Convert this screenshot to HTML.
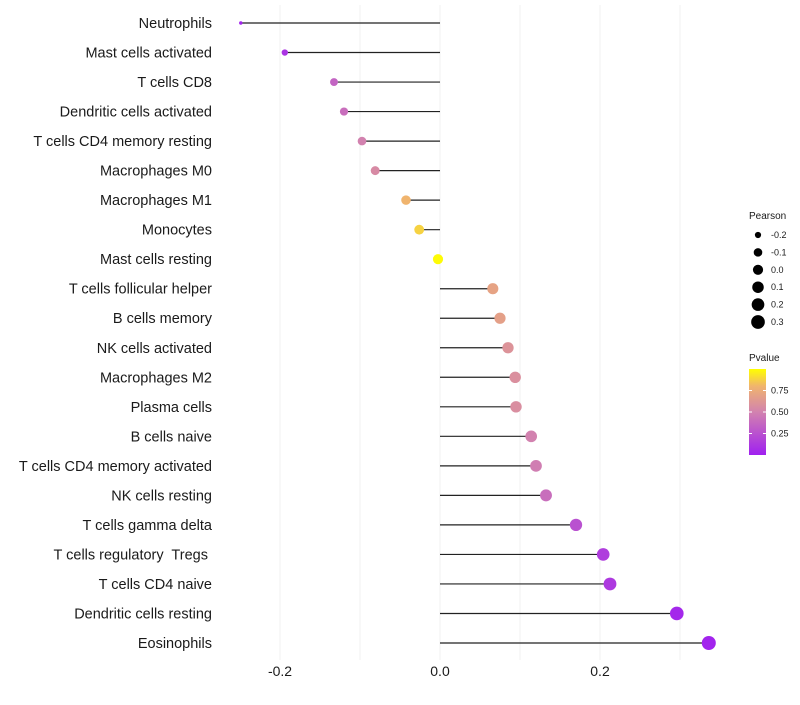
<!DOCTYPE html>
<html><head><meta charset="utf-8"><style>
body{margin:0;background:#fff;font-family:"Liberation Sans",sans-serif;}
text{white-space:pre;}
</style></head><body>
<svg id="chart" width="800" height="700" xmlns="http://www.w3.org/2000/svg" font-family="Liberation Sans, sans-serif"></svg>
<script>
const categories=["Neutrophils","Mast cells activated","T cells CD8","Dendritic cells activated","T cells CD4 memory resting","Macrophages M0","Macrophages M1","Monocytes","Mast cells resting","T cells follicular helper","B cells memory","NK cells activated","Macrophages M2","Plasma cells","B cells naive","T cells CD4 memory activated","NK cells resting","T cells gamma delta","T cells regulatory  Tregs ","T cells CD4 naive","Dendritic cells resting","Eosinophils"];
const pearson=[-0.249,-0.194,-0.1325,-0.12,-0.0975,-0.081,-0.0425,-0.026,-0.0025,0.066,0.075,0.085,0.094,0.095,0.114,0.12,0.1325,0.17,0.204,0.2125,0.296,0.336];
const pvalue=[0.02,0.1,0.35,0.4,0.5,0.55,0.8,0.88,0.99,0.7,0.68,0.6,0.58,0.57,0.5,0.48,0.4,0.25,0.15,0.13,0.04,0.02];
const xTicks=[-0.2,0.0,0.2];
const xTickLabels=["-0.2","0.0","0.2"];
const gridVals=[-0.2,-0.1,0,0.1,0.2,0.3];
const sizeLegend=[-0.2,-0.1,0.0,0.1,0.2,0.3];
const sizeLegendLabels=["-0.2","-0.1","0.0","0.1","0.2","0.3"];
const pTicks=[0.25,0.5,0.75];
const pTickLabels=["0.25","0.50","0.75"];

const svg=document.getElementById('chart');
const NS="http://www.w3.org/2000/svg";
function mk(tag,attrs,parent){const e=document.createElementNS(NS,tag);for(const k in attrs)e.setAttribute(k,attrs[k]);(parent||svg).appendChild(e);return e;}
const xs=v=>440+v*800;
const ys=i=>23+i*(643-23)/(categories.length-1);
const rs=v=>1.5+5.5*Math.sqrt(Math.max(0,(v+0.25)/0.586));
const stops=[[0,[160,32,240]],[0.5,[210,130,175]],[0.8,[240,180,110]],[1,[255,255,0]]];
function col(p){for(let i=1;i<stops.length;i++){if(p<=stops[i][0]){const a=stops[i-1],b=stops[i];const t=(p-a[0])/(b[0]-a[0]);const c=a[1].map((v,j)=>Math.round(v+(b[1][j]-v)*t));return `rgb(${c})`;}}return 'rgb(255,255,0)';}

gridVals.forEach(g=>{const l=mk('line',{x1:xs(g),x2:xs(g),y1:5,y2:660,stroke:'#f0f0f0','stroke-width':1});

});

categories.forEach((c,i)=>{
 const y=ys(i);
 const t=mk('text',{x:212,y:y+5,'text-anchor':'end','font-size':14.5,fill:'#1a1a1a'});t.textContent=c;
 
 
 const ln=mk('line',{x1:xs(0),x2:xs(pearson[i]),y1:y,y2:y,stroke:'#222','stroke-width':1.2});
 
 
 const ci=mk('circle',{cx:xs(pearson[i]),cy:y,r:rs(pearson[i]),fill:col(pvalue[i])});
 
 
});
xTicks.forEach((v,i)=>{const t=mk('text',{x:xs(v),y:676,'text-anchor':'middle','font-size':14,fill:'#1a1a1a'});t.textContent=xTickLabels[i];

});

const lt=mk('text',{x:749,y:219,'font-size':10,fill:'#1a1a1a'});lt.textContent='Pearson';


sizeLegend.forEach((v,i)=>{const y=235+i*17.4;
 const d=mk('circle',{cx:758,cy:y,r:rs(v),fill:'#000'});
 
 
 const t=mk('text',{x:771,y:y+3,'font-size':9,fill:'#1a1a1a'});t.textContent=sizeLegendLabels[i];
 
 
});
const pt=mk('text',{x:749,y:361,'font-size':10,fill:'#1a1a1a'});pt.textContent='Pvalue';


const defs=mk('defs',{});const lg=mk('linearGradient',{id:'pg',x1:0,y1:1,x2:0,y2:0},defs);
for(let k=0;k<=10;k++){mk('stop',{offset:k/10,'stop-color':col(k/10)},lg);}
const bar=mk('rect',{x:749,y:369,width:17,height:86,fill:'url(#pg)'});


pTicks.forEach((p,i)=>{const y=455-p*86;
 mk('line',{x1:749,x2:752,y1:y,y2:y,stroke:'#fff'});mk('line',{x1:763,x2:766,y1:y,y2:y,stroke:'#fff'});
 const t=mk('text',{x:771,y:y+3,'font-size':9,fill:'#1a1a1a'});t.textContent=pTickLabels[i];
 
 
});
</script>
</body></html>
